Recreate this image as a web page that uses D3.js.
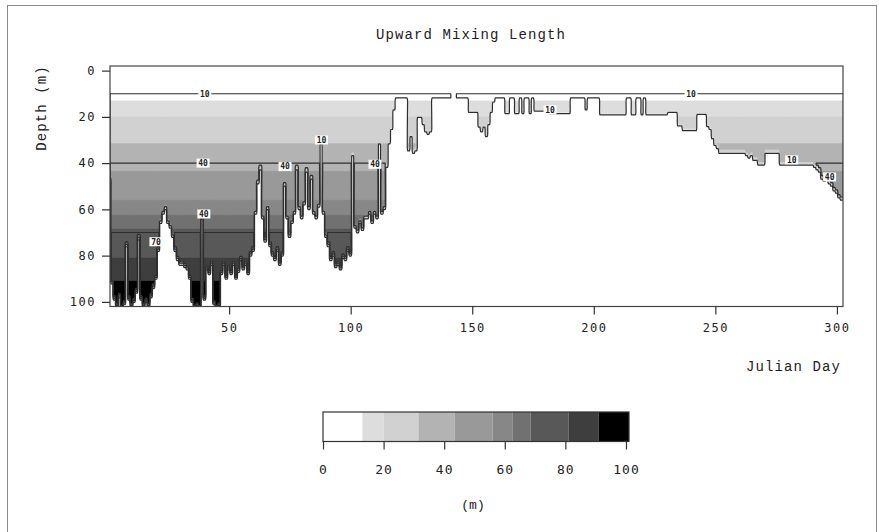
<!DOCTYPE html>
<html><head><meta charset="utf-8">
<script src="https://cdn.jsdelivr.net/npm/d3@7"></script>
<style>body{margin:0;background:#fff}svg{display:block}</style>
</head><body>
<svg id="c" width="879" height="532"></svg>
<script>
// ---------- data ----------
const chartTitle = "Upward Mixing Length";
const xLabel = "Julian Day";
const yLabel = "Depth (m)";
const unitLabel = "(m)";
const xTicks = [50, 100, 150, 200, 250, 300];
const yTicks = [0, 20, 40, 60, 80, 100];
const cbTicks = [0, 20, 40, 60, 80, 100];
// colour band limits of the mixing length (m)
const bandBreaks = [13, 20, 31.5, 43.5, 56, 62.5, 68.5, 81, 91];
const bandColors = ["#ffffff", "#dddddd", "#d1d1d1", "#b3b3b3", "#999999", "#878787", "#717171", "#585858", "#3e3e3e", "#000000"];
const lineLevels = [10, 40, 70];
const firstDay = 1;
// depth (m) reached by upward mixing, one value per Julian day 1..302
const mixedDepth = [
  46, 90, 97, 100, 96, 101, 99, 74, 97, 100,
  98, 94, 71, 97, 100, 98, 100, 96, 92, 88,
  76, 64, 60, 58, 64, 66, 70, 76, 80, 82,
  82, 83, 84, 88, 98, 101, 100, 101, 62, 97,
  84, 86, 82, 99, 101, 100, 86, 82, 88, 84,
  86, 82, 88, 85, 80, 84, 82, 86, 78, 76,
  60, 47, 41, 62, 72, 58, 74, 78, 80, 76,
  82, 78, 48, 62, 70, 64, 60, 41, 58, 62,
  56, 42, 58, 45, 60, 62, 57, 30, 60, 70,
  74, 80, 78, 83, 82, 84, 79, 80, 76, 78,
  35, 66, 68, 64, 67, 62, 62, 60, 64, 60,
  62, 30, 60, 58, 40, 30, 24, 16, 11.5, 11.5,
  11.5, 11.5, 11.5, 33, 27, 34, 33, 19, 19, 22,
  25, 26, 25, 11.5, 11.5, 11.5, 11.5, 11.5, 11.5, 11.5,
  11.5, 8, 8, 11.5, 11.5, 11.5, 11.5, 11.5, 17, 17,
  17, 17, 23, 25, 23, 27, 22, 17, 13, 11.5,
  11.5, 11.5, 11.5, 17.5, 17.5, 11.5, 11.5, 17.5, 17.5, 11.5,
  17.5, 11.5, 11.5, 17.5, 11.5, 16.5, 16.5, 16.5, 16.5, 16.5,
  16.5, 17.5, 17.5, 17.5, 17.5, 17.5, 17.5, 17.5, 17.5, 17.5,
  11.5, 11.5, 11.5, 11.5, 11.5, 11.5, 16, 11.5, 11.5, 11.5,
  11.5, 11.5, 18, 18, 18, 18, 18, 18, 18, 18,
  18, 18, 18, 11.5, 11.5, 18, 18, 11.5, 11.5, 18,
  11.5, 18, 18, 18, 18, 18, 18, 18, 18, 18,
  17, 17, 17, 17, 22.5, 22.5, 24.5, 24.5, 24.5, 24.5,
  24.5, 24.5, 17.8, 17.8, 17.8, 17.8, 22.8, 24, 27.8, 30.7,
  32, 34, 34, 34, 34, 34, 34, 34, 34, 34,
  34, 34, 35, 36, 35, 37, 37, 39, 39, 39,
  34, 34, 34, 34, 34, 34, 39, 39, 39, 39,
  39, 39, 39, 39, 39, 39, 39, 39, 39, 39,
  40, 41, 42, 45, 46, 45, 47, 48, 50, 51,
  53, 54
];
// contour labels: [day, depth, text]
const labelDays   = [40, 240, 39.3, 73, 110, 88, 39.6, 19.9, 182, 281.4, 297];
const labelDepths = [10, 10, 40, 41.5, 40.5, 30, 62, 74, 17, 38.6, 46];
const labelTexts  = ["10", "10", "40", "40", "40", "10", "40", "70", "10", "10", "40"];

// ---------- layout ----------
const svg = d3.select("#c");
const plot = {left: 110, right: 843, top: 66, bottom: 306.5};
const x = d3.scaleLinear().domain([1, 302.5]).range([plot.left, plot.right]);
const y = d3.scaleLinear().domain([-2, 102]).range([plot.top, plot.bottom]);
const monoSerif = "'Liberation Mono', 'Courier New', monospace";
const monoSans = "'DejaVu Sans Mono', monospace";

// outer border
svg.append("rect").attr("x", 7.5).attr("y", 5.5).attr("width", 869).attr("height", 560)
  .attr("fill", "none").attr("stroke", "#8a8a8a").attr("stroke-width", 1);

// ---------- grid for contours ----------
const perDay = 3, perMetre = 2, fade = 2.5;
const nx = Math.ceil((302.5 - firstDay) * perDay);
const ny = Math.round(104 * perMetre);
const values = new Float64Array(nx * ny);
for (let j = 0; j < ny; j++) {
  const depth = -2 + (j + 0.5) / perMetre;
  for (let k = 0; k < nx; k++) {
    const day = firstDay + (k + 0.5) / perDay;
    const idx = Math.max(0, Math.min(mixedDepth.length - 1, Math.round(day) - firstDay));
    const mld = mixedDepth[idx];
    let v = 0;
    if (depth >= 0 && depth <= mld) v = depth;
    else if (depth > mld && depth < mld + fade) v = mld * (1 - (depth - mld) / fade);
    values[j * nx + k] = v;
  }
}
const proj = d3.geoTransform({
  point: function(px, py) { this.stream.point(x(firstDay + px / perDay), y(-2 + py / perMetre)); }
});
const path = d3.geoPath(proj);

svg.append("defs").append("clipPath").attr("id", "clip")
  .append("rect").attr("x", plot.left).attr("y", plot.top)
  .attr("width", plot.right - plot.left).attr("height", plot.bottom - plot.top);

const g = svg.append("g").attr("clip-path", "url(#clip)");
const bands = d3.contours().size([nx, ny]).thresholds(bandBreaks)(values);
g.selectAll("path.band").data(bands).join("path")
  .attr("class", "band")
  .attr("d", path)
  .attr("fill", (d, i) => bandColors[i + 1])
  .attr("stroke", (d, i) => bandColors[i + 1]).attr("stroke-width", 0.3);

const lines = d3.contours().size([nx, ny]).thresholds(lineLevels)(values);
g.selectAll("path.line").data(lines).join("path")
  .attr("class", "line")
  .attr("d", path)
  .attr("fill", "none")
  .attr("stroke", "#2e2e2e").attr("stroke-width", 1.2).attr("stroke-linejoin", "round");

// contour labels
const lab = g.selectAll("g.lab").data(labelTexts.map((t, i) => ({t, d: labelDays[i], z: labelDepths[i]})))
  .join("g").attr("class", "lab")
  .attr("transform", d => `translate(${x(d.d)},${y(d.z)})`);
lab.append("rect").attr("x", -6.5).attr("y", -4.5).attr("width", 13).attr("height", 9).attr("fill", "#fff");
lab.append("text").attr("text-anchor", "middle").attr("dy", "0.35em")
  .attr("font-family", monoSans).attr("font-size", 8).attr("font-weight", "bold").attr("fill", "#222")
  .text(d => d.t);

// frame
svg.append("rect").attr("x", plot.left).attr("y", plot.top)
  .attr("width", plot.right - plot.left).attr("height", plot.bottom - plot.top)
  .attr("fill", "none").attr("stroke", "#444").attr("stroke-width", 1.2);

// axes
const ax = svg.append("g").attr("transform", `translate(0,${plot.bottom})`)
  .call(d3.axisBottom(x).tickValues(xTicks).tickSize(8).tickPadding(9));
const ay = svg.append("g").attr("transform", `translate(${plot.left},0)`)
  .call(d3.axisLeft(y).tickValues(yTicks).tickSize(8).tickPadding(6));
[ax, ay].forEach(a => {
  a.select(".domain").remove();
  a.selectAll("line").attr("stroke", "#333").attr("stroke-width", 1.2);
  a.selectAll("text").attr("font-family", monoSans).attr("font-size", 12)
    .attr("letter-spacing", 1.5).attr("fill", "#222");
});

// titles
svg.append("text").attr("x", 471).attr("y", 39).attr("text-anchor", "middle")
  .attr("font-family", monoSerif).attr("font-size", 14).attr("letter-spacing", 1.1).attr("fill", "#222")
  .text(chartTitle);
svg.append("text").attr("x", 841).attr("y", 371).attr("text-anchor", "end")
  .attr("font-family", monoSerif).attr("font-size", 14).attr("letter-spacing", 1.1).attr("fill", "#222")
  .text(xLabel);
svg.append("text").attr("transform", "translate(46,108) rotate(-90)").attr("text-anchor", "middle")
  .attr("font-family", monoSerif).attr("font-size", 14).attr("letter-spacing", 1.1).attr("fill", "#222")
  .text(yLabel);

// ---------- colour bar ----------
const cb = d3.scaleLinear().domain([0, 101]).range([323, 629]);
const cbTop = 412, cbH = 29.5;
const edges = [0, ...bandBreaks, 101];
svg.append("g").selectAll("rect").data(bandColors).join("rect")
  .attr("x", (d, i) => cb(edges[i])).attr("y", cbTop)
  .attr("width", (d, i) => cb(edges[i + 1]) - cb(edges[i])).attr("height", cbH)
  .attr("fill", d => d);
svg.append("rect").attr("x", cb(0)).attr("y", cbTop).attr("width", cb(101) - cb(0)).attr("height", cbH)
  .attr("fill", "none").attr("stroke", "#333").attr("stroke-width", 1.2);
const ac = svg.append("g").attr("transform", `translate(0,${cbTop + cbH})`)
  .call(d3.axisBottom(cb).tickValues(cbTicks).tickSize(8).tickPadding(15));
ac.select(".domain").remove();
ac.selectAll("line").attr("stroke", "#333").attr("stroke-width", 1.2);
ac.selectAll("text").attr("font-family", monoSans).attr("font-size", 13)
  .attr("letter-spacing", 1).attr("fill", "#222");
svg.append("text").attr("x", 473).attr("y", 509).attr("text-anchor", "middle")
  .attr("font-family", monoSerif).attr("font-size", 13).attr("fill", "#222")
  .text(unitLabel);
</script>
</body></html>
